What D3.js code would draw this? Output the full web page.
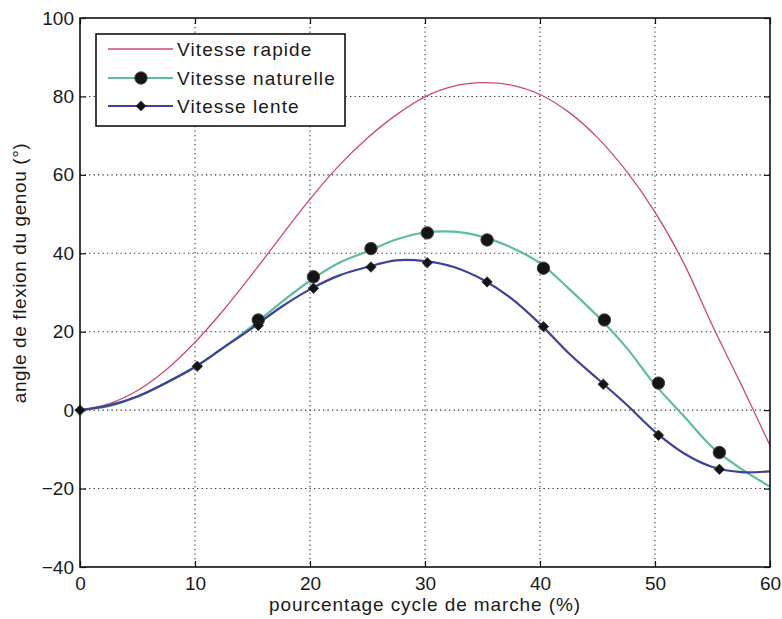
<!DOCTYPE html>
<html>
<head>
<meta charset="utf-8">
<script src="https://cdn.jsdelivr.net/npm/d3@7"></script>
<style>
  body { margin: 0; background: #fff; }
  svg text { font-family: "Liberation Sans", Arial, Helvetica, sans-serif; fill: #1a1a1a; }
</style>
</head>
<body>
<svg id="chart" width="782" height="619"></svg>
<script>
// Knee flexion angle over the gait cycle, three walking speeds.

// Smooth curves (sampled every 2.5 % of the cycle)
const cycleSamples = [0, 2.5, 5, 7.5, 10, 12.5, 15, 17.5, 20, 22.5, 25, 27.5, 30,
                      32.5, 35, 37.5, 40, 42.5, 45, 47.5, 50, 52.5, 55, 57.5, 60];
const rapideCurve   = [0, 1.6, 5, 10.3, 17.3, 25.6, 34.8, 44.4, 53.8, 62.3, 69.4, 75.3, 79.9,
                       82.6, 83.5, 82.9, 80.5, 76, 69.5, 61, 50.5, 37.5, 21.5, 6.5, -9];
const naturelleCurve = [0, 1, 3.5, 7, 11, 16, 21.5, 27.5, 33, 37.5, 40.5, 43.5, 45.3,
                        45.5, 44.2, 41.5, 37.5, 31, 24, 16, 6.5, -1.5, -9.5, -15, -19.5];
const lenteCurve    = [0, 1.2, 3.5, 7, 11, 16, 21, 26.3, 30.8, 34.3, 36.5, 38.2, 38,
                       36.5, 33.3, 28.5, 22, 14.5, 8, 1.5, -5.5, -11, -14.5, -15.8, -15.6];

// Measured points (markers)
const naturelleX = [15.5, 20.3, 25.3, 30.2, 35.4, 40.3, 45.6, 50.3, 55.6];
const naturelleY = [23, 34, 41.2, 45.2, 43.4, 36.2, 23, 6.9, -10.8];
const lenteX = [0, 10.2, 15.5, 20.3, 25.3, 30.2, 35.4, 40.3, 45.5, 50.3, 55.6];
const lenteY = [0, 11.2, 21.6, 31.1, 36.5, 37.6, 32.7, 21.3, 6.6, -6.4, -15.1];

const xTicks = [0, 10, 20, 30, 40, 50, 60];
const yTicks = [-40, -20, 0, 20, 40, 60, 80, 100];

const seriesNames = ["Vitesse rapide", "Vitesse naturelle", "Vitesse lente"];
const seriesColors = ["#cc4a72", "#5cc096", "#3f3f9c"];

const svg = d3.select("#chart");
const plot = { left: 80, right: 770, top: 18, bottom: 567 };

const x = d3.scaleLinear().domain([0, 60]).range([plot.left, plot.right]);
const y = d3.scaleLinear().domain([-40, 100]).range([plot.bottom, plot.top]);

// dotted grid
const grid = svg.append("g");
grid.selectAll("line.vg").data(xTicks.slice(1, -1)).join("line")
  .attr("x1", d => x(d)).attr("x2", d => x(d))
  .attr("y1", plot.top).attr("y2", plot.bottom)
  .attr("stroke", "#333").attr("stroke-width", 1.1).attr("stroke-dasharray", "1.3,3.2");
grid.selectAll("line.hg").data(yTicks.slice(1, -1)).join("line")
  .attr("x1", plot.left).attr("x2", plot.right)
  .attr("y1", d => y(d)).attr("y2", d => y(d))
  .attr("stroke", "#333").attr("stroke-width", 1.1).attr("stroke-dasharray", "1.3,3.2");

// axes with inward ticks on all four sides
const tickLen = 6;
svg.append("g").attr("transform", `translate(0,${plot.bottom})`)
  .call(d3.axisBottom(x).tickValues(xTicks).tickSize(-tickLen).tickPadding(10))
  .call(g => g.select(".domain").remove());
svg.append("g").attr("transform", `translate(0,${plot.top})`)
  .call(d3.axisTop(x).tickValues(xTicks).tickSize(-tickLen).tickFormat(""))
  .call(g => g.select(".domain").remove());
svg.append("g").attr("transform", `translate(${plot.left},0)`)
  .call(d3.axisLeft(y).tickValues(yTicks).tickSize(-tickLen).tickPadding(6))
  .call(g => g.select(".domain").remove());
svg.append("g").attr("transform", `translate(${plot.right},0)`)
  .call(d3.axisRight(y).tickValues(yTicks).tickSize(-tickLen).tickFormat(""))
  .call(g => g.select(".domain").remove());
svg.selectAll(".tick line").attr("stroke", "#111").attr("stroke-width", 1.2);
svg.selectAll(".tick text").style("font-size", "19px").attr("fill", "#1a1a1a");

// curves
const line = d3.line()
  .x((d, i) => x(cycleSamples[i]))
  .y(d => y(d))
  .curve(d3.curveCatmullRom.alpha(0.5));

const curves = [rapideCurve, naturelleCurve, lenteCurve];
const widths = [1.3, 2.2, 2.2];
curves.forEach((c, k) => {
  svg.append("path").datum(c)
    .attr("fill", "none")
    .attr("stroke", seriesColors[k])
    .attr("stroke-width", widths[k])
    .attr("d", line);
});

// markers
const diamond = d3.symbol().type(d3.symbolDiamond2).size(70);
svg.append("g").selectAll("circle").data(naturelleX).join("circle")
  .attr("cx", d => x(d)).attr("cy", (d, i) => y(naturelleY[i]))
  .attr("r", 6.2).attr("fill", "#141414").attr("stroke", "#444").attr("stroke-width", 1);
svg.append("g").selectAll("path").data(lenteX).join("path")
  .attr("transform", (d, i) => `translate(${x(d)},${y(lenteY[i])})`)
  .attr("d", diamond).attr("fill", "#141414").attr("stroke", "#333").attr("stroke-width", 0.8);

// frame
svg.append("rect")
  .attr("x", plot.left).attr("y", plot.top)
  .attr("width", plot.right - plot.left).attr("height", plot.bottom - plot.top)
  .attr("fill", "none").attr("stroke", "#111").attr("stroke-width", 1.6);

// legend
const leg = svg.append("g");
leg.append("rect").attr("x", 96).attr("y", 34).attr("width", 249).attr("height", 92)
  .attr("fill", "#fff").attr("stroke", "#111").attr("stroke-width", 1.6);
const rowsY = [49, 78, 106];
seriesNames.forEach((name, k) => {
  leg.append("line").attr("x1", 108).attr("x2", 173).attr("y1", rowsY[k]).attr("y2", rowsY[k])
    .attr("stroke", seriesColors[k]).attr("stroke-width", widths[k]);
  if (k === 1) {
    leg.append("circle").attr("cx", 141).attr("cy", rowsY[k]).attr("r", 6.2)
      .attr("fill", "#141414").attr("stroke", "#444");
  }
  if (k === 2) {
    leg.append("path").attr("transform", `translate(141,${rowsY[k]})`)
      .attr("d", diamond).attr("fill", "#141414");
  }
  leg.append("text").attr("x", 177).attr("y", rowsY[k]).attr("dy", "0.35em")
    .style("font-size", "19px").style("letter-spacing", "1.1px").text(name);
});

// axis titles
svg.append("text").attr("x", (plot.left + plot.right) / 2).attr("y", 611)
  .attr("text-anchor", "middle").style("font-size", "19px").style("letter-spacing", "0.9px")
  .text("pourcentage cycle de marche (%)");
svg.append("text").attr("transform", "translate(26,273) rotate(-90)")
  .attr("text-anchor", "middle").style("font-size", "19px").style("letter-spacing", "0.6px")
  .text("angle de flexion du genou (°)");
</script>
</body>
</html>
